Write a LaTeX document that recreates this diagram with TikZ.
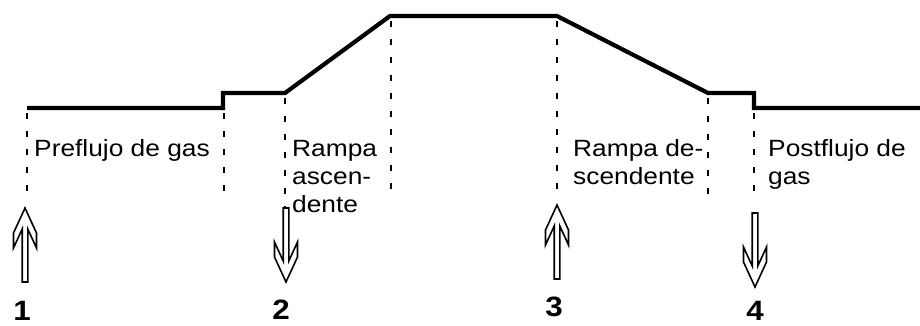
\documentclass[tikz,border=0pt]{standalone}
\usepackage{fontspec}
\setmainfont{Liberation Sans}[FakeStretch=1.12]
\begin{document}
\begin{tikzpicture}[x=1pt,y=-1pt,
  profile/.style={line width=4.2pt, line join=miter},
  guide/.style={line width=2.4pt, dash pattern=on 6pt off 12pt},
  lbl/.style={inner sep=0pt, anchor=base west, align=left, font=\fontsize{23.5}{28}\selectfont},
  num/.style={inner sep=0pt, anchor=base, font=\fontsize{28}{30}\selectfont\bfseries},
  pics/hollowup/.style={code={\draw[line width=1.6pt, line join=miter, fill=white]
    (0,0) -- (11.5,25) -- (11.5,40) -- (2.8,21) -- (2.8,74) -- (-2.8,74)
    -- (-2.8,21) -- (-11.5,40) -- (-11.5,25) -- cycle;}}
]
\fill[white] (0,0) rectangle (920,325);
\useasboundingbox (0,0) rectangle (920,325);

% profile corners
\coordinate (p0) at (27,108);
\coordinate (p1) at (223,108);
\coordinate (p2) at (223,93);
\coordinate (p3) at (285,93);
\coordinate (p4) at (390,16);
\coordinate (p5) at (557,16);
\coordinate (p6) at (708,93);
\coordinate (p7) at (754,93);
\coordinate (p8) at (754,108);
\coordinate (p9) at (920,108);
\draw[profile] (p0) -- (p1) -- (p2) -- (p3) -- (p4) -- (p5) -- (p6) -- (p7) -- (p8) -- (p9);

% guide lines
\draw[guide] (27,113) -- (27,199);
\draw[guide] (224,113) -- (224,199);
\draw[guide] (285,98) -- (285,209);
\draw[guide] (391,21) -- (391,199);
\draw[guide] (557,21) -- (557,199);
\draw[guide] (708,98) -- (708,199);
\draw[guide] (754,113) -- (754,199);

% labels (base anchor = baseline of the last line)
\node[lbl] (t1) at (34,156) {Preflujo de gas};
\node[lbl] (t2) at (292,212) {Rampa\\ascen-\\dente};
\node[lbl] (t3) at (573,184) {Rampa de-\\scendente};
\node[lbl] (t4) at (768,184) {Postflujo de\\gas};

% arrows
\pic at (25,208) {hollowup};
\pic[rotate=180] at (286,282) {hollowup};
\pic at (557,205) {hollowup};
\pic[rotate=180] at (755,287) {hollowup};

% numbers
\node[num] (n1) at (22,320) {1};
\node[num] (n2) at (281,319) {2};
\node[num] (n3) at (554,316) {3};
\node[num] (n4) at (755,320) {4};
\end{tikzpicture}
\end{document}
